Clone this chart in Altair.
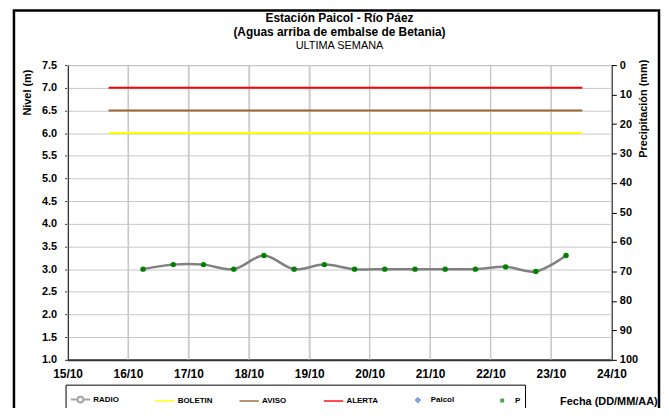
import altair as alt
import pandas as pd

# ---- data ----
radio_day = [16.25, 16.75, 17.25, 17.75, 18.25, 18.75, 19.25, 19.75,
             20.25, 20.75, 21.25, 21.75, 22.25, 22.75, 23.25]
radio_level = [3.0, 3.1, 3.1, 3.0, 3.3, 3.0, 3.1, 3.0,
               3.0, 3.0, 3.0, 3.0, 3.05, 2.95, 3.3]

umbral_names = ["BOLETIN", "AVISO", "ALERTA"]
umbral_level = [6.0, 6.5, 7.0]
umbral_start = [15.68, 15.68, 15.68]
umbral_end = [23.52, 23.52, 23.52]

legend_names = ["RADIO", "BOLETIN", "AVISO", "ALERTA", "Paicol", "P"]
legend_colors = ["#808080", "#FFFF00", "#996633", "#FF0000", "#4472C4", "#008000"]
legend_shapes = [
    "M-1,0H-0.3M0.3,0H1M-0.3,0A0.3,0.3 0 1,0 0.3,0A0.3,0.3 0 1,0 -0.3,0",
    "M-1,0H1",
    "M-1,0H1",
    "M-1,0H1",
    "M0,-0.2L0.2,0L0,0.2L-0.2,0Z",
    "M-0.1,-0.1H0.1V0.1H-0.1Z",
]

x_ticks = [15, 16, 17, 18, 19, 20, 21, 22, 23, 24]
y_ticks = [1.0, 1.5, 2.0, 2.5, 3.0, 3.5, 4.0, 4.5, 5.0, 5.5, 6.0, 6.5, 7.0, 7.5]
p_ticks = [0, 10, 20, 30, 40, 50, 60, 70, 80, 90, 100]

radio_df = pd.DataFrame({"dia": radio_day, "nivel": radio_level})
umbral_df = pd.DataFrame({"serie": umbral_names, "nivel": umbral_level,
                          "ini": umbral_start, "fin": umbral_end})
# vertical grid: one two-point segment per day tick, bottom to top of the level axis
grid_df = pd.DataFrame({
    "dia": [d for d in x_ticks for _ in range(2)],
    "nivel": [v for _ in x_ticks for v in (y_ticks[0], y_ticks[-1])],
})
legend_df = pd.DataFrame({"serie": legend_names})
frame_df = pd.DataFrame({"k": [0]})

FONT = "Liberation Sans"
PLOT_W, PLOT_H = 548, 297

x_scale = alt.Scale(domain=[15, 24], nice=False, zero=False)
y_scale = alt.Scale(domain=[1.0, 7.5], nice=False, zero=False)
color_scale = alt.Scale(domain=legend_names, range=legend_colors)
shape_scale = alt.Scale(domain=legend_names, range=legend_shapes)

x_axis = alt.Axis(values=x_ticks, labelExpr="datum.value + '/10'", grid=True,
                  gridColor="#c8c8c8", ticks=False, domainColor="#333333",
                  domainWidth=2, labelFont=FONT, labelFontWeight="bold",
                  labelFontSize=12, labelColor="black", labelPadding=9,
                  labelFlush=False, labelBound=False,
                  title="Fecha (DD/MM/AA)", titleX=545, titleY=42,
                  titleFont=FONT, titleFontSize=11, titleFontWeight="bold",
                  titleAlign="center", titleBaseline="middle", titleColor="black")

y_axis = alt.Axis(values=y_ticks, format=".1f", grid=True, gridColor="#c8c8c8",
                  tickSize=3, tickColor="#333333", domainColor="#333333",
                  domainWidth=2, labelFont=FONT, labelFontWeight="bold",
                  labelFontSize=11, labelColor="black", labelPadding=8,
                  title="Nivel (m)", titleX=-40, titleY=4, titleAngle=270,
                  titleAlign="right", titleBaseline="middle", titleFont=FONT,
                  titleFontSize=11, titleFontWeight="bold", titleColor="black")

p_axis = alt.Axis(values=p_ticks, orient="right", grid=False, tickSize=5,
                  tickColor="black", domainColor="black", domainWidth=1.5,
                  labelFont=FONT, labelFontWeight="bold", labelFontSize=11,
                  labelColor="black", labelPadding=3,
                  title="Precipitación (mm)", titleX=32, titleY=-6,
                  titleAngle=270, titleAlign="right", titleBaseline="middle",
                  titleFont=FONT, titleFontSize=11, titleFontWeight="bold",
                  titleColor="black")

legend_def = alt.Legend(title=None, orient="none", legendX=-2, legendY=322,
                        direction="horizontal", columns=6, gridAlign="all",
                        columnPadding=22, symbolSize=380, symbolStrokeWidth=2,
                        labelFont=FONT, labelFontWeight="bold", labelFontSize=8,
                        labelColor="black", labelOffset=2, strokeColor="black",
                        padding=4, fillColor="white")

vgrid = alt.Chart(grid_df).mark_line(color="#c4c4c4", strokeWidth=1).encode(
    x=alt.X("dia:Q", scale=x_scale, axis=x_axis),
    y=alt.Y("nivel:Q", scale=y_scale, axis=None),
    detail="dia:N",
)

line = alt.Chart(radio_df).mark_line(
    interpolate="catmull-rom", color="#808080", strokeWidth=2.5
).encode(
    x=alt.X("dia:Q", scale=x_scale, axis=x_axis),
    y=alt.Y("nivel:Q", scale=y_scale, axis=y_axis),
)

rules = alt.Chart(umbral_df).mark_rule(strokeWidth=2).encode(
    x=alt.X("ini:Q", scale=x_scale, axis=x_axis),
    x2="fin:Q",
    y=alt.Y("nivel:Q", scale=y_scale, axis=None),
    color=alt.Color("serie:N", scale=color_scale, legend=legend_def),
)

points = alt.Chart(radio_df).mark_circle(size=30, color="#008000", opacity=1).encode(
    x=alt.X("dia:Q", scale=x_scale, axis=x_axis),
    y=alt.Y("nivel:Q", scale=y_scale, axis=None),
)

right = alt.Chart(legend_df).mark_point(filled=False, strokeWidth=2).encode(
    y=alt.Y("precip:Q", scale=alt.Scale(domain=[0, 100], reverse=True, nice=False),
            axis=p_axis),
    color=alt.Color("serie:N", scale=color_scale, legend=legend_def),
    shape=alt.Shape("serie:N", scale=shape_scale, legend=legend_def),
).transform_filter("false")

frame = alt.Chart(frame_df).mark_rect(
    fillOpacity=0, stroke="black", strokeWidth=2.5
).encode(
    x=alt.value(-54), x2=alt.value(596), y=alt.value(-55), y2=alt.value(360)
)

chart = alt.layer(vgrid, line, rules, points, right, frame).resolve_scale(
    y="independent"
).properties(
    width=PLOT_W, height=PLOT_H, autosize="none",
    padding={"left": 60, "top": 56, "right": 50, "bottom": 47},
    title=alt.TitleParams(
        text=["Estación Paicol  - Río Páez", "(Aguas arriba de embalse de Betania)"],
        subtitle="ULTIMA SEMANA", font=FONT, fontSize=12, fontWeight="bold",
        lineHeight=14, subtitleFont=FONT, subtitleFontSize=11,
        subtitleColor="black", subtitlePadding=1, anchor="middle", offset=-43,
        color="black"),
).configure(font=FONT).configure_view(stroke="#999999", strokeWidth=1)

chart.save("out.html", embed_options={"renderer": "svg", "actions": False})
